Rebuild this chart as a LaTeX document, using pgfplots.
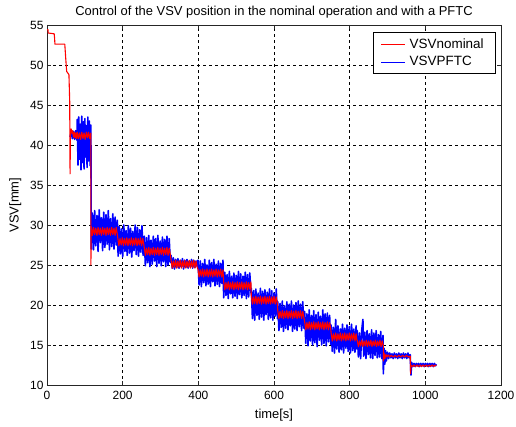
\documentclass[border=0pt]{standalone}
\usepackage{fontspec}
\setmainfont{Liberation Sans}
\usepackage{pgfplots}
\pgfplotsset{compat=1.18}
\pgfplotsset{my legend line/.style={legend image code/.code={\draw[##1] (0bp,0bp) -- (24bp,0bp);}}}
\begin{document}
\begin{tikzpicture}
\useasboundingbox (0,0) rectangle (516bp,427bp);
\begin{axis}[
  at={(47bp,42bp)}, anchor=south west,
  scale only axis, width=454bp, height=360bp,
  xmin=0, xmax=1200, ymin=10, ymax=55,
  xtick={0,200,...,1200}, ytick={10,15,...,55},
  /pgf/number format/assume math mode=true,
  /pgf/number format/1000 sep={},
  tick label style={font=\fontsize{12}{14}\selectfont},
  xticklabel style={yshift=-3bp},
  label style={font=\fontsize{13}{15}\selectfont},
  title style={font=\fontsize{13}{15}\selectfont, at={(axis description cs:0.5,1)}, anchor=base, yshift=4bp},
  title={Control of the VSV position in the nominal operation and with a PFTC},
  xlabel={time[s]},
  xlabel style={at={(axis description cs:0.5,0)}, anchor=base, yshift=-34bp},
  ylabel={VSV[mm]},
  ylabel style={at={(axis description cs:-0.07,0.5)}, anchor=center},
  grid=major,
  major grid style={black, dash pattern=on 3bp off 3bp, line width=0.5bp},
  axis line style={black!85, line width=0.7bp},
  tick style={black!85, line width=0.6bp},
  tick align=inside, major tick length=4bp,
  legend style={at={(axis description cs:1,1)}, anchor=north east, xshift=-5bp, yshift=-7bp,
    draw=black, line width=0.6bp, inner xsep=8bp, inner ysep=4bp,
    font=\fontsize{13.5}{15}\selectfont, row sep=3bp, cells={anchor=west},
    nodes={inner xsep=4bp}},
  my legend line,
  legend cell align=left,
]
\addlegendimage{red, line width=0.6bp}
\addlegendentry{VSVnominal}
\addlegendimage{blue, line width=0.6bp}
\addlegendentry{VSVPFTC}

% blue (PFTC)
\addplot[blue, line width=1.6bp, line join=round, forget plot] coordinates {
(61,41.0) (64,41.6) (67,40.8) (70,41.7) (73,40.7) (76,41.8) (79,40.6)
(80,43.2) (82,37.5) (84,43.5) (86,38.2) (88,42.6) (90,36.9) (92,43.6) (94,37.8) (96,42.9) (98,37.0) (100,43.3) (102,38.5) (104,42.4) (106,37.2) (108,43.5) (110,38.0) (112,43.0) (114,37.4) (116,42.5)
(117,27.0) (120,31.5) (123,26.9) (126,31.8) (129,27.4) (132,31.2) (135,26.7) (138,31.9) (141,27.8) (144,30.9) (147,26.8) (150,31.6) (153,27.2) (156,31.3) (159,27.6) (162,31.8) (165,26.9) (168,30.8) (171,27.3) (174,31.4) (177,27.0) (180,31.0) (183,27.5) (186,30.6)
(188,26.1) (191,29.8) (194,26.4) (197,29.5) (200,26.0) (203,30.0) (206,26.7) (209,29.3) (212,26.2) (215,29.9) (218,26.5) (221,29.6) (224,26.0) (227,29.2) (230,26.8) (233,30.0) (236,26.3) (239,29.7) (242,26.1) (245,29.4) (248,26.6) (251,29.9) (254,26.2)
(257,28.6) (260,24.9) (263,28.4) (266,25.3) (269,28.7) (272,24.8) (275,28.1) (278,25.1) (281,28.6) (284,25.5) (287,28.3) (290,24.8) (293,28.7) (296,25.2) (299,28.0) (302,24.9) (305,28.5) (308,25.4) (311,28.2) (314,24.8) (317,28.6) (320,25.0) (323,28.3) (326,25.3)
(328,26.2) (331,24.6) (334,25.9) (337,24.5) (340,25.7) (343,24.7) (346,25.8) (349,24.6) (352,25.6) (355,24.8) (358,25.8) (361,24.5) (364,25.6) (367,24.7) (370,25.7) (373,24.6) (376,25.5) (379,24.8) (382,25.7) (385,24.6) (388,25.6) (391,24.7) (394,25.5) (397,24.8)
(399,25.6) (402,22.5) (405,25.5) (408,22.3) (411,25.2) (414,22.8) (417,25.7) (420,22.4) (423,25.0) (426,22.6) (429,25.6) (432,22.3) (435,25.3) (438,22.9) (441,25.7) (444,22.4) (447,25.1) (450,22.6) (453,25.5) (456,22.3) (459,25.2) (462,22.7) (465,25.6)
(467,20.9) (470,24.1) (473,21.2) (476,23.8) (479,20.8) (482,24.2) (485,21.4) (488,23.6) (491,20.9) (494,24.0) (497,21.1) (500,23.7) (503,20.8) (506,24.2) (509,21.3) (512,23.9) (515,20.9) (518,23.6) (521,21.2) (524,24.1) (527,20.8) (530,23.8) (533,21.0) (536,24.0) (539,21.5)
(540,22.1) (543,18.3) (546,21.8) (549,18.1) (552,22.0) (555,18.7) (558,21.5) (561,18.2) (564,22.1) (567,18.5) (570,21.7) (573,18.1) (576,21.9) (579,18.8) (582,21.6) (585,18.2) (588,22.0) (591,18.4) (594,21.8) (597,18.1) (600,21.5) (603,18.6) (606,22.0) (609,18.3)
(610,20.4) (613,16.8) (616,20.2) (619,17.2) (622,20.5) (625,16.7) (628,19.9) (631,17.1) (634,20.4) (637,16.9) (640,20.1) (643,17.4) (646,20.5) (649,16.7) (652,20.0) (655,17.0) (658,20.3) (661,16.8) (664,20.5) (667,17.3) (670,20.1) (673,16.8) (676,20.4) (679,17.1)
(681,19.2) (684,15.2) (687,18.9) (690,14.9) (693,19.4) (696,15.5) (699,18.7) (702,15.0) (705,19.3) (708,15.3) (711,18.8) (714,14.8) (717,19.1) (720,15.6) (723,18.6) (726,15.0) (729,19.4) (732,15.2) (735,18.9) (738,14.9) (741,19.0) (744,15.4) (747,18.7) (750,15.1)
(751,17.5) (754,14.2) (757,17.2) (760,14.0) (763,18.2) (766,14.5) (769,17.4) (772,14.1) (775,17.0) (778,14.4) (781,17.6) (784,14.0) (787,17.1) (790,14.6) (793,17.5) (796,14.2) (799,17.3) (802,14.0) (805,17.6) (808,14.3) (811,17.0) (814,14.1) (817,17.4) (819,14.5)
(820,16.8) (823,13.5) (826,16.5) (829,13.3) (832,16.9) (835,18.2) (837,13.6) (840,16.6) (843,13.3) (846,16.8) (849,13.8) (852,16.4) (855,13.4) (858,16.9) (861,13.3) (864,16.5) (867,13.7) (870,16.8) (873,13.4) (876,16.3) (879,13.5) (882,16.7) (885,13.3) (888,16.2)
(889,11.4) (891,14.6) (893,12.6) (895,14.3) (897,13.0) (900,14.1) (903,13.3) (906,14.0) (909,13.4) (912,13.9) (915,13.3) (918,14.0) (921,13.4) (924,13.9) (927,13.3) (930,14.0) (933,13.4) (936,13.9) (939,13.3) (942,14.0) (945,13.4) (948,13.9) (951,13.3) (954,14.0) (957,13.4) (960,13.8)
(962,11.25) (964,12.8) (967,12.3) (970,12.7) (973,12.3) (976,12.7) (979,12.4) (982,12.7) (985,12.3) (988,12.7) (991,12.4) (994,12.7) (997,12.3) (1000,12.7) (1003,12.4) (1006,12.7) (1009,12.3) (1012,12.7) (1015,12.4) (1018,12.7) (1021,12.3) (1024,12.7) (1027,12.4) (1029,12.6)
};

% red (nominal)
\addplot[red, line width=1.1bp, line join=round, forget plot] coordinates {
(0,54.4) (3,54.4) (3,54.0) (19,53.9) (20,53.4) (21,52.6) (47,52.6) (50,50.5) (52,49.2) (55,49.0) (58,48.8) (60,45.5) (61,36.4)
(62,41.9) (64,42.0) (66,41.4) (68,41.8) (70,41.0) (72,41.6) (74,40.9) (76,41.5) (78,40.8) (80,41.6) (83,40.8) (86,41.5) (89,40.7) (92,41.6) (95,40.8) (98,41.5) (101,40.7) (104,41.6) (107,40.9) (110,41.6) (113,40.8) (116,41.5) (116,25.0)
(117,29.8) (120,28.7) (123,29.7) (126,28.8) (129,29.6) (132,28.7) (135,29.7) (138,28.8) (141,29.6) (144,28.7) (147,29.7) (150,28.8) (153,29.6) (156,28.7) (159,29.7) (162,28.8) (165,29.6) (168,28.7) (171,29.7) (174,28.8) (177,29.6) (180,28.7) (183,29.7) (186,28.8)
(187,28.4) (190,27.4) (193,28.3) (196,27.5) (199,28.4) (202,27.4) (205,28.3) (208,27.5) (211,28.4) (214,27.4) (217,28.3) (220,27.5) (223,28.4) (226,27.4) (229,28.3) (232,27.5) (235,28.4) (238,27.4) (241,28.3) (244,27.5) (247,28.4) (250,27.4) (253,28.3) (256,27.5)
(257,27.2) (260,26.2) (263,27.1) (266,26.3) (269,27.2) (272,26.2) (275,27.1) (278,26.3) (281,27.2) (284,26.2) (287,27.1) (290,26.3) (293,27.2) (296,26.2) (299,27.1) (302,26.3) (305,27.2) (308,26.2) (311,27.1) (314,26.3) (317,27.2) (320,26.2) (323,27.1) (326,26.3)
(328,25.6) (331,24.6) (334,25.5) (337,24.7) (340,25.6) (343,24.6) (346,25.5) (349,24.7) (352,25.6) (355,24.6) (358,25.5) (361,24.7) (364,25.6) (367,24.6) (370,25.5) (373,24.7) (376,25.6) (379,24.6) (382,25.5) (385,24.7) (388,25.6) (391,24.6) (394,25.5) (397,24.7)
(399,24.5) (402,23.5) (405,24.4) (408,23.6) (411,24.5) (414,23.5) (417,24.4) (420,23.6) (423,24.5) (426,23.5) (429,24.4) (432,23.6) (435,24.5) (438,23.5) (441,24.4) (444,23.6) (447,24.5) (450,23.5) (453,24.4) (456,23.6) (459,24.5) (462,23.5) (465,24.4)
(467,22.9) (470,21.9) (473,22.8) (476,22.0) (479,22.9) (482,21.9) (485,22.8) (488,22.0) (491,22.9) (494,21.9) (497,22.8) (500,22.0) (503,22.9) (506,21.9) (509,22.8) (512,22.0) (515,22.9) (518,21.9) (521,22.8) (524,22.0) (527,22.9) (530,21.9) (533,22.8) (536,22.0) (539,22.9)
(540,21.1) (543,20.1) (546,21.0) (549,20.2) (552,21.1) (555,20.1) (558,21.0) (561,20.2) (564,21.1) (567,20.1) (570,21.0) (573,20.2) (576,21.1) (579,20.1) (582,21.0) (585,20.2) (588,21.1) (591,20.1) (594,21.0) (597,20.2) (600,21.1) (603,20.1) (606,21.0) (609,20.2)
(610,19.3) (613,18.3) (616,19.2) (619,18.4) (622,19.3) (625,18.3) (628,19.2) (631,18.4) (634,19.3) (637,18.3) (640,19.2) (643,18.4) (646,19.3) (649,18.3) (652,19.2) (655,18.4) (658,19.3) (661,18.3) (664,19.2) (667,18.4) (670,19.3) (673,18.3) (676,19.2) (679,18.4)
(681,17.9) (684,16.9) (687,17.8) (690,17.0) (693,17.9) (696,16.9) (699,17.8) (702,17.0) (705,17.9) (708,16.9) (711,17.8) (714,17.0) (717,17.9) (720,16.9) (723,17.8) (726,17.0) (729,17.9) (732,16.9) (735,17.8) (738,17.0) (741,17.9) (744,16.9) (747,17.8) (750,17.0)
(751,16.5) (754,15.5) (757,16.4) (760,15.6) (763,16.5) (766,15.5) (769,16.4) (772,15.6) (775,16.5) (778,15.5) (781,16.4) (784,15.6) (787,16.5) (790,15.5) (793,16.4) (796,15.6) (799,16.5) (802,15.5) (805,16.4) (808,15.6) (811,16.5) (814,15.5) (817,16.4) (819,15.6)
(820,15.6) (823,14.8) (826,15.5) (829,14.9) (832,15.6) (835,14.8) (838,15.5) (841,14.9) (844,15.6) (847,14.8) (850,15.5) (853,14.9) (856,15.6) (859,14.8) (862,15.5) (865,14.9) (868,15.6) (871,14.8) (874,15.5) (877,14.9) (880,15.6) (883,14.8) (886,15.5) (889,14.9)
(889,13.0) (891,14.0) (893,13.3) (896,13.8) (899,13.5) (902,13.75) (906,13.5) (910,13.7) (915,13.5) (920,13.7) (925,13.5) (930,13.7) (935,13.5) (940,13.7) (945,13.5) (950,13.7) (955,13.5) (960,13.6) (961,11.4)
(962,12.5) (966,12.3) (970,12.5) (974,12.3) (978,12.5) (982,12.3) (986,12.5) (990,12.3) (994,12.5) (998,12.3) (1002,12.5) (1006,12.3) (1010,12.5) (1014,12.3) (1018,12.5) (1022,12.3) (1026,12.5) (1029,12.4)
};
\end{axis}
\end{tikzpicture}
\end{document}
